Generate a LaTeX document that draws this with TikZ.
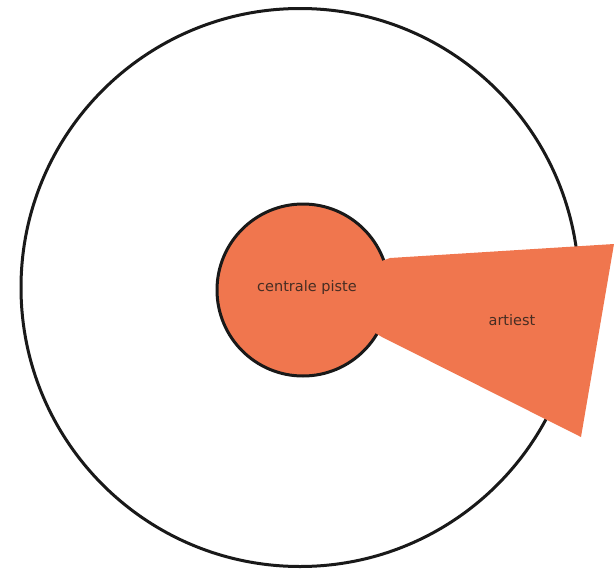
\documentclass[tikz,border=0pt]{standalone}
\usepackage{fontspec}
\setmainfont{DejaVu Sans}
\usetikzlibrary{positioning}
\definecolor{cPiste}{RGB}{240,118,78}
\definecolor{cText}{RGB}{70,45,35}
\tikzset{
  ringnode/.style={circle,draw=black!90,line width=3pt,inner sep=0pt},
  pistenode/.style={ringnode,fill=cPiste},
  lblnode/.style={font=\fontsize{14.5}{17}\selectfont,text=cText}
}
\begin{document}
\begin{tikzpicture}[x=1pt,y=-1pt]
  \useasboundingbox (0,0) rectangle (614,571);

  % Outer circle
  \node[ringnode,minimum size=558pt] (arena) at (300,287.5) {};

  % Central piste
  \node[pistenode,minimum size=172pt] (piste) at (303,290) {};

  % Artist wedge
  \coordinate (wTop) at (390,258);
  \coordinate (wTR) at (614,244);
  \coordinate (wBR) at (581,437);
  \coordinate (wBot) at (382,337);
  \fill[cPiste] (wTop) -- (wTR) -- (wBR) -- (wBot) -- (piste.center) -- cycle;

  % Labels
  \node[lblnode] (pisteLbl) at (307,287) {centrale piste};
  \node[lblnode] (artistLbl) at (512,320) {artiest};

\end{tikzpicture}
\end{document}
